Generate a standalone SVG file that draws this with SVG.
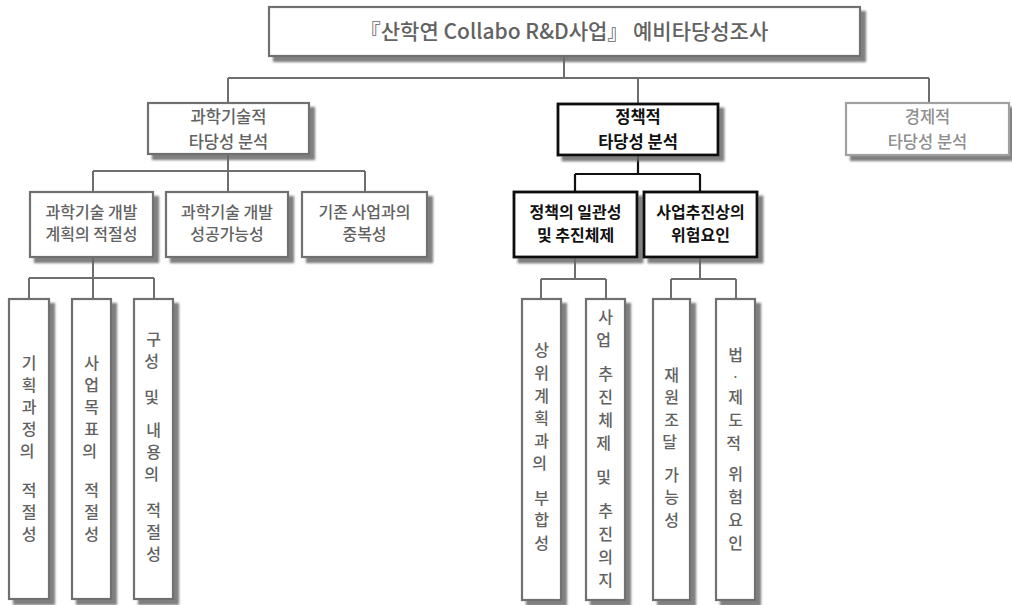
<svg xmlns="http://www.w3.org/2000/svg" width="1012" height="605" viewBox="0 0 1012 605">
<defs>
<filter id="sh" x="-20%" y="-20%" width="150%" height="150%">
<feDropShadow dx="5" dy="5" stdDeviation="1.2" flood-color="#6a6a6a" flood-opacity="0.85"/>
</filter>
<style>
text{font-family:"Noto Sans CJK KR","Noto Sans",sans-serif;text-anchor:middle;}
.box{fill:#fff;stroke:#707070;stroke-width:2.2;filter:url(#sh);}
.light{stroke:#a0a0a0;}
.bold{stroke:#111;stroke-width:2.8;}
.t{fill:#626262;font-size:16px;font-weight:500;}
.tl{fill:#8e8e8e;}
.tb{fill:#111;font-weight:700;}
.t2{font-size:16.5px;}
.title{font-size:21px;}
.dot{font-size:12px;}
.c{fill:none;stroke:#6e6e6e;stroke-width:2;}
.ck{fill:none;stroke:#111;stroke-width:2.2;}
</style>
</defs>
<rect width="1012" height="605" fill="#fff"/>
<g id="connectors">
<path class="c" d="M564 57V78M228 78H929M228 78V103M638 78V103M929 78V103"/>
<path class="c" d="M228 154V171M93 171H365M93 171V192M228 171V192M365 171V192"/>
<path class="c" d="M93 257V278M29 278H154M29 278V299M93 278V299M154 278V299"/>
<path class="ck" d="M638 155V174M575 174H700M575 174V192M700 174V192"/>
<path class="c" d="M575 257V279M541 279H606M541 279V299M606 279V299"/>
<path class="c" d="M700 257V279M671 279H736M671 279V299M736 279V299"/>
</g>
<g id="root">
<rect class="box" x="269" y="7" width="591" height="49"/>
<text class="t title" x="564" y="39">『산학연 Collabo R&amp;D사업』 예비타당성조사</text>
</g>
<g id="sci">
<rect class="box" x="148" y="103" width="161" height="51"/>
<text class="t t2" x="228.5" y="123">과학기술적</text>
<text class="t t2" x="228.5" y="148">타당성 분석</text>
</g>
<g id="policy">
<rect class="box bold" x="558" y="104" width="160" height="51"/>
<text class="t t2 tb" x="638" y="123">정책적</text>
<text class="t t2 tb" x="638" y="148">타당성 분석</text>
</g>
<g id="econ">
<rect class="box light" x="846" y="103" width="163" height="52"/>
<text class="t t2 tl" x="927.5" y="123">경제적</text>
<text class="t t2 tl" x="927.5" y="148">타당성 분석</text>
</g>
<g id="sci1">
<rect class="box" x="30" y="192" width="123" height="65"/>
<text class="t" x="91.5" y="218">과학기술 개발</text>
<text class="t" x="91.5" y="240">계획의 적절성</text>
</g>
<g id="sci2">
<rect class="box" x="166" y="192" width="122" height="65"/>
<text class="t" x="227" y="218">과학기술 개발</text>
<text class="t" x="227" y="240">성공가능성</text>
</g>
<g id="sci3">
<rect class="box" x="302" y="192" width="125" height="65"/>
<text class="t" x="364.5" y="218">기존 사업과의</text>
<text class="t" x="364.5" y="240">중복성</text>
</g>
<g id="pol1">
<rect class="box bold" x="514" y="192" width="123" height="65"/>
<text class="t tb" x="575.5" y="218">정책의 일관성</text>
<text class="t tb" x="575.5" y="241">및 추진체제</text>
</g>
<g id="pol2">
<rect class="box bold" x="644" y="192" width="113" height="65"/>
<text class="t tb" x="700.5" y="218">사업추진상의</text>
<text class="t tb" x="700.5" y="241">위험요인</text>
</g>
<g id="v1">
<rect class="box" x="9" y="299" width="40" height="300"/>
<text class="t"><tspan x="29" y="369">기</tspan><tspan x="29" y="391">획</tspan><tspan x="29" y="413">과</tspan><tspan x="29" y="435">정</tspan><tspan x="29" y="457">의</tspan> <tspan x="29" y="496">적</tspan><tspan x="29" y="518">절</tspan><tspan x="29" y="540">성</tspan></text>
</g>
<g id="v2">
<rect class="box" x="72" y="299" width="39" height="300"/>
<text class="t"><tspan x="91.5" y="369">사</tspan><tspan x="91.5" y="391">업</tspan><tspan x="91.5" y="413">목</tspan><tspan x="91.5" y="435">표</tspan><tspan x="91.5" y="457">의</tspan> <tspan x="91.5" y="496">적</tspan><tspan x="91.5" y="518">절</tspan><tspan x="91.5" y="540">성</tspan></text>
</g>
<g id="v3">
<rect class="box" x="134" y="299" width="39" height="300"/>
<text class="t"><tspan x="153.5" y="345">구</tspan><tspan x="153.5" y="367">성</tspan> <tspan x="153.5" y="403">및</tspan> <tspan x="153.5" y="436">내</tspan><tspan x="153.5" y="458">용</tspan><tspan x="153.5" y="480">의</tspan> <tspan x="153.5" y="516">적</tspan><tspan x="153.5" y="538">절</tspan><tspan x="153.5" y="560">성</tspan></text>
</g>
<g id="v4">
<rect class="box" x="522" y="299" width="39" height="301"/>
<text class="t"><tspan x="541.5" y="356">상</tspan><tspan x="541.5" y="379">위</tspan><tspan x="541.5" y="402">계</tspan><tspan x="541.5" y="424">획</tspan><tspan x="541.5" y="447">과</tspan><tspan x="541.5" y="469">의</tspan> <tspan x="541.5" y="504">부</tspan><tspan x="541.5" y="526">합</tspan><tspan x="541.5" y="549">성</tspan></text>
</g>
<g id="v5">
<rect class="box" x="586" y="299" width="39" height="301"/>
<text class="t"><tspan x="605.5" y="323">사</tspan><tspan x="605.5" y="346">업</tspan> <tspan x="605.5" y="380">추</tspan><tspan x="605.5" y="403">진</tspan><tspan x="605.5" y="426">체</tspan><tspan x="605.5" y="449">제</tspan> <tspan x="605.5" y="483">및</tspan> <tspan x="605.5" y="517">추</tspan><tspan x="605.5" y="540">진</tspan><tspan x="605.5" y="563">의</tspan><tspan x="605.5" y="586">지</tspan></text>
</g>
<g id="v6">
<rect class="box" x="653" y="299" width="37" height="301"/>
<text class="t"><tspan x="671.5" y="381">재</tspan><tspan x="671.5" y="403">원</tspan><tspan x="671.5" y="426">조</tspan><tspan x="671.5" y="448">달</tspan> <tspan x="671.5" y="481">가</tspan><tspan x="671.5" y="503">능</tspan><tspan x="671.5" y="526">성</tspan></text>
</g>
<g id="v7">
<rect class="box" x="716" y="299" width="39" height="301"/>
<text class="t"><tspan x="735.5" y="361">법</tspan><tspan class="dot" x="735.5" y="380.5">·</tspan><tspan x="735.5" y="403">제</tspan><tspan x="735.5" y="426">도</tspan><tspan x="735.5" y="449">적</tspan> <tspan x="735.5" y="480">위</tspan><tspan x="735.5" y="503">험</tspan><tspan x="735.5" y="526">요</tspan><tspan x="735.5" y="549">인</tspan></text>
</g>
</svg>
